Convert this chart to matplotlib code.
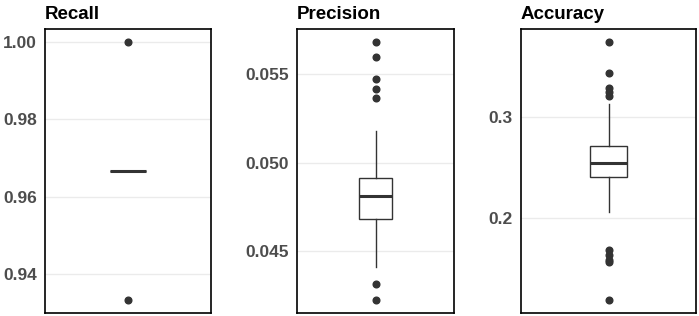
import matplotlib
matplotlib.use('Agg')
import matplotlib.pyplot as plt

plt.rcParams['font.family'] = ['Liberation Sans', 'DejaVu Sans']

# Box statistics (med, q1, q3, whiskers, outliers)
metric_names = ['Recall', 'Precision', 'Accuracy']

recall_stats = [0.9667, 0.9667, 0.9667, 0.9667, 0.9667]
recall_fliers = [1.0, 0.9333]
recall_ticks = [0.94, 0.96, 0.98, 1.00]
recall_labels = ['0.94', '0.96', '0.98', '1.00']

precision_stats = [0.04812, 0.04683, 0.04912, 0.04407, 0.05178]
precision_fliers = [0.05684, 0.05597, 0.05474, 0.05417, 0.05368, 0.04313, 0.04222]
precision_ticks = [0.045, 0.050, 0.055]
precision_labels = ['0.045', '0.050', '0.055']

accuracy_stats = [0.2548, 0.2402, 0.2719, 0.2059, 0.3135]
accuracy_fliers = [0.3749, 0.3442, 0.3290, 0.3250, 0.3210,
                   0.1680, 0.1630, 0.1585, 0.1560, 0.1184]
accuracy_ticks = [0.2, 0.3]
accuracy_labels = ['0.2', '0.3']

panels = [
    (recall_stats, recall_fliers, recall_ticks, recall_labels),
    (precision_stats, precision_fliers, precision_ticks, precision_labels),
    (accuracy_stats, accuracy_fliers, accuracy_ticks, accuracy_labels),
]

# panel rectangles in pixels: left, right
W, H = 699, 316
panel_x = [(45, 211), (297, 454), (521, 696)]
top, bottom = 29, 313

fig = plt.figure(figsize=(W / 100, H / 100), dpi=100)

for name, (stats, fliers, ticks, labels), (x0, x1) in zip(metric_names, panels, panel_x):
    ax = fig.add_axes([x0 / W, 1 - bottom / H, (x1 - x0) / W, (bottom - top) / H])
    med, q1, q3, lo, hi = stats
    box = dict(med=med, q1=q1, q3=q3, whislo=lo, whishi=hi, fliers=fliers)
    ax.bxp([box], positions=[1], widths=0.43, showcaps=False, patch_artist=True,
           boxprops=dict(facecolor='white', edgecolor='#333333', linewidth=1.0),
           whiskerprops=dict(color='#333333', linewidth=1.0),
           medianprops=dict(color='#333333', linewidth=2.2, solid_capstyle='butt'),
           flierprops=dict(marker='o', markerfacecolor='#333333', markeredgecolor='#333333',
                           markersize=4.8, linestyle='none'))
    allv = list(stats) + list(fliers)
    vmin, vmax = min(allv), max(allv)
    pad = (vmax - vmin) * 0.05
    ax.set_ylim(vmin - pad, vmax + pad)
    ax.set_xlim(0, 2)
    ax.set_xticks([])
    ax.set_yticks(ticks)
    ax.set_yticklabels(labels)
    ax.tick_params(axis='y', length=0, pad=6, labelsize=12.5, labelcolor='#4D4D4D')
    for lab in ax.get_yticklabels():
        lab.set_fontweight('bold')
    ax.grid(axis='y', color='#EBEBEB', linewidth=1.0)
    ax.set_axisbelow(True)
    for sp in ax.spines.values():
        sp.set_color('black')
        sp.set_linewidth(1.2)
    ax.set_title(name, loc='left', fontsize=13.5, fontweight='bold', pad=7)

fig.savefig('out.png', dpi=100)
